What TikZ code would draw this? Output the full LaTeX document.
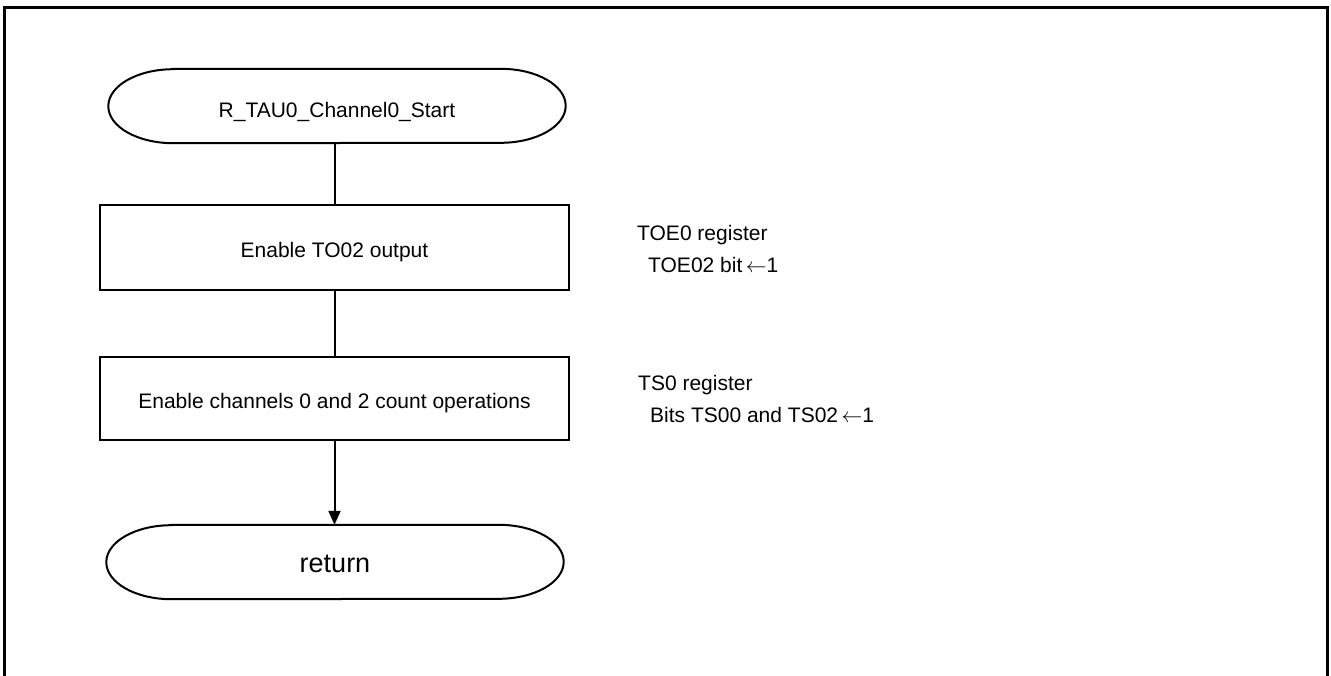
\documentclass[tikz,border=0pt]{standalone}
\usepackage{fontspec}
\setmainfont{Liberation Sans}
\usetikzlibrary{arrows.meta}

% outline of a terminal symbol: straight top and bottom, elliptical ends
\newcommand\termoutline[1]{%
  \draw[shapeline] ([xshift=65pt]#1.north west) -- ([xshift=-65pt]#1.north east)
    arc[start angle=90, end angle=-90, x radius=65pt, y radius=37pt]
    -- ([xshift=65pt]#1.south west)
    arc[start angle=-90, end angle=-270, x radius=65pt, y radius=37pt] -- cycle;}
% thin left arrow used in the register notes
\newcommand\setto{\,$\leftarrow$}

\begin{document}
\begin{tikzpicture}[x=1pt, y=-1pt,
  shapeline/.style={line width=2pt, black},
  bodyfont/.style={font=\fontsize{21}{25}\selectfont, text height=23pt, text depth=3pt},
  terminal/.style={minimum width=457pt, minimum height=74pt, inner sep=0pt, bodyfont},
  procbox/.style={draw, line width=2pt, minimum width=469pt, inner sep=0pt, bodyfont},
  note/.style={anchor=base west, inner sep=0pt, font=\fontsize{21}{25}\selectfont},
  flow/.style={line width=2pt},
  frameline/.style={line width=3pt}]

\useasboundingbox (0,0) rectangle (1331,675);

% page frame, open at the bottom
\coordinate (fbl) at (4.5,680);
\coordinate (ftl) at (4.5,7.5);
\coordinate (ftr) at (1327.5,7.5);
\coordinate (fbr) at (1327.5,680);
\draw[frameline] (fbl) -- (ftl) -- (ftr) -- (fbr);

% flow chart
\node[terminal, text height=26pt] (start) at (337,106) {R\_TAU0\_Channel0\_Start};
\termoutline{start}

\node[procbox, minimum height=85pt] (b1) at (334.5,247.5) {Enable TO02 output};
\node[procbox, minimum height=83pt] (b2) at (334.5,398.5) {Enable channels 0 and 2 count operations};

\node[terminal, font=\fontsize{27}{31}\selectfont, text height=24pt, text depth=4pt]
  (ret) at (335,562) {return};
\termoutline{ret}

\draw[flow] (b1.north |- start.south) -- (b1.north);
\draw[flow] (b1.south) -- (b2.north);
\draw[flow, -{Triangle[length=14pt, width=12pt]}] (b2.south) -- (b2.south |- ret.north);

% register notes
\node[note] (n1) at (637,240.5) {TOE0 register};
\node[note] (n2) at (648,272.5) {TOE02 bit\setto1};
\node[note] (n3) at (638,390.5) {TS0 register};
\node[note] (n4) at (650,422.5) {Bits TS00 and TS02\setto1};

\end{tikzpicture}
\end{document}
